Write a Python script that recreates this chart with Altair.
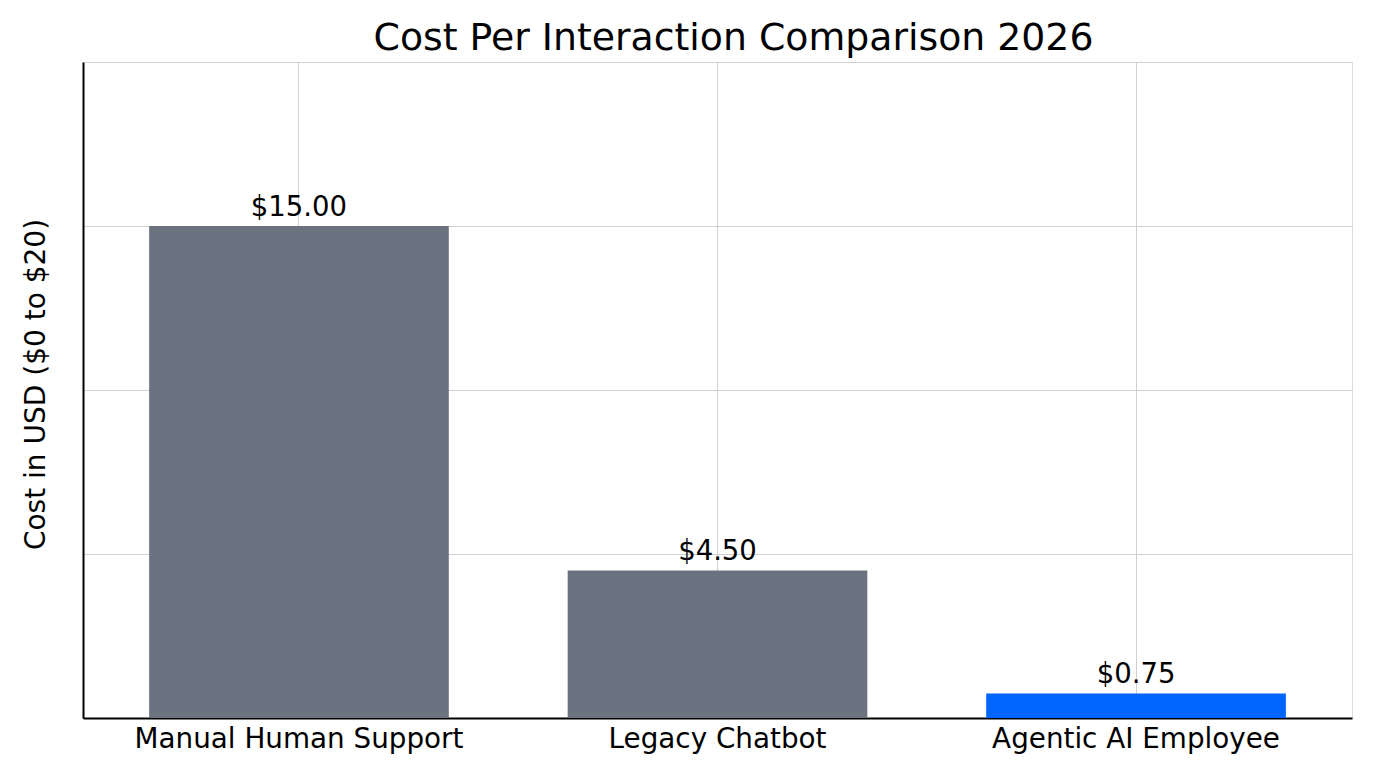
import altair as alt
import pandas as pd

categories = ["Manual Human Support", "Legacy Chatbot", "Agentic AI Employee"]
costs = [15.00, 4.50, 0.75]
labels = ["$15.00", "$4.50", "$0.75"]
bar_colors = ["#6B7280", "#6B7280", "#0066FF"]

df = pd.DataFrame({"category": categories, "cost": costs, "label": labels, "color": bar_colors})

FONT = "DejaVu Sans"

x = alt.X("category:N", sort=categories, title=None,
          scale=alt.Scale(paddingInner=0.284, paddingOuter=0.158),
          axis=alt.Axis(labelAngle=0, labelFontSize=27.8, labelColor="black", labelFont=FONT,
                        labelLimit=0, labelPadding=7, ticks=False, tickSize=0, grid=True, bandPosition=0.5,
                        gridColor="#d0d0d0", gridWidth=1, domainColor="black", domainWidth=2))
y = alt.Y("cost:Q", title="Cost in USD ($0 to $20)",
          scale=alt.Scale(domain=[0, 20], nice=False),
          axis=alt.Axis(values=[0, 5, 10, 15, 20], labels=False, ticks=False, tickSize=0,
                        grid=True, gridColor="#d0d0d0", gridWidth=1,
                        domainColor="black", domainWidth=2,
                        titleFontSize=28, titleFont=FONT, titleColor="black",
                        titleFontWeight="normal", titlePadding=33, titleY=322, titleAnchor="middle"))

bars = alt.Chart(df).mark_bar().encode(
    x=x, y=y, color=alt.Color("color:N", scale=None)
)

text = alt.Chart(df).mark_text(baseline="alphabetic", dy=-10, fontSize=27.5, font=FONT, color="black").encode(
    x=alt.X("category:N", sort=categories),
    y=alt.Y("cost:Q"),
    text="label:N",
)

chart = (bars + text).properties(
    width=1269,
    height=656,
    title=alt.TitleParams("Cost Per Interaction Comparison 2026", fontSize=37.8, font=FONT,
                          fontWeight="normal", color="black", offset=4, dx=16),
    autosize=alt.AutoSizeParams(type="none"),
    padding={"left": 75, "top": 54, "right": 16, "bottom": 42},
).configure_view(stroke=None).configure(background="white")

chart.save("out.html", embed_options={"renderer": "svg", "actions": False})
